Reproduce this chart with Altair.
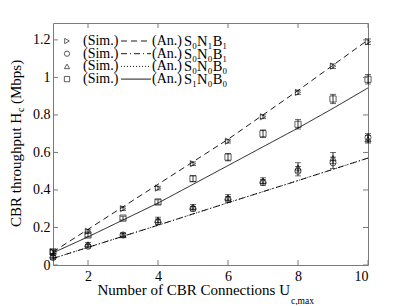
import altair as alt
import pandas as pd

# ---------------- data ----------------
x_vals = [1, 2, 3, 4, 5, 6, 7, 8, 9, 10]

series_names = ["S₀N₁B₁", "S₀N₀B₁", "S₀N₀B₀", "S₁N₀B₀"]
shapes = ["triangle-right", "circle", "triangle-up", "square"]
dashes = [[6, 4], [6, 3, 1, 3], [1, 2], [1, 0]]

# analytical curves
an_s0n1b1 = [0.07, 0.19, 0.31, 0.43, 0.55, 0.67, 0.80, 0.93, 1.065, 1.20]
an_s0n0b1 = [0.035, 0.094, 0.153, 0.212, 0.272, 0.332, 0.391, 0.45, 0.51, 0.57]
an_s0n0b0 = [0.035, 0.094, 0.153, 0.212, 0.272, 0.332, 0.391, 0.45, 0.51, 0.57]
an_s1n0b0 = [0.065, 0.15, 0.24, 0.33, 0.43, 0.53, 0.63, 0.73, 0.835, 0.944]

# simulations
sim_s0n1b1 = [0.07, 0.18, 0.30, 0.41, 0.54, 0.66, 0.79, 0.92, 1.06, 1.19]
sim_s0n0b1 = [0.04, 0.10, 0.16, 0.23, 0.30, 0.35, 0.44, 0.50, 0.545, 0.68]
sim_s0n0b0 = [0.05, 0.11, 0.16, 0.24, 0.31, 0.36, 0.45, 0.52, 0.57, 0.67]
sim_s1n0b0 = [0.07, 0.16, 0.25, 0.336, 0.46, 0.575, 0.70, 0.75, 0.885, 0.99]

# half-widths of confidence intervals
err_s0n1b1 = [0.01, 0.01, 0.01, 0.01, 0.01, 0.01, 0.01, 0.012, 0.012, 0.015]
err_s0n0b1 = [0.01, 0.01, 0.01, 0.015, 0.012, 0.015, 0.015, 0.025, 0.03, 0.02]
err_s0n0b0 = [0.01, 0.01, 0.01, 0.015, 0.012, 0.015, 0.015, 0.025, 0.03, 0.02]
err_s1n0b0 = [0.01, 0.01, 0.01, 0.012, 0.015, 0.02, 0.02, 0.025, 0.025, 0.025]

y_ticks = [0, 0.2, 0.4, 0.6, 0.8, 1, 1.2]
x_ticks = [2, 4, 6, 8, 10]

an_all = [an_s0n1b1, an_s0n0b1, an_s0n0b0, an_s1n0b0]
sim_all = [sim_s0n1b1, sim_s0n0b1, sim_s0n0b0, sim_s1n0b0]
err_all = [err_s0n1b1, err_s0n0b1, err_s0n0b0, err_s1n0b0]

# ---------------- tables ----------------
an_rows, sim_rows = [], []
for name, a, s, e in zip(series_names, an_all, sim_all, err_all):
    for xv, av, sv, ev in zip(x_vals, a, s, e):
        an_rows.append({"x": xv, "y": av, "series": name})
        sim_rows.append({"x": xv, "y": sv, "lo": sv - ev, "hi": sv + ev, "series": name})
an_df = pd.DataFrame(an_rows)
sim_df = pd.DataFrame(sim_rows)

W, H = 315, 242
FONT = "Liberation Serif"
FRAME = "#7a7a7a"

xs = alt.Scale(domain=[1, 10], nice=False, zero=False)
ys = alt.Scale(domain=[0, 1.29], nice=False)
xax = alt.Axis(values=x_ticks, ticks=False, domain=False, grid=False, title=None,
               labelPadding=4, labelFont=FONT, labelFontSize=14, labelColor="black")
yax = alt.Axis(values=y_ticks, format="~g", ticks=False, domain=False, grid=False,
               title=None, labelPadding=3, labelFont=FONT, labelFontSize=14, labelColor="black")

def X(f="x"):
    return alt.X(f + ":Q", scale=xs, axis=xax)

def Y(f="y"):
    return alt.Y(f + ":Q", scale=ys, axis=yax)

layers = []

# analytical lines
for name, dash in zip(series_names, dashes):
    layers.append(
        alt.Chart(an_df[an_df.series == name]).mark_line(
            color="black", strokeWidth=0.9, strokeDash=dash, clip=True
        ).encode(x=X(), y=Y())
    )

# error bars
layers.append(alt.Chart(sim_df).mark_rule(color="black", strokeWidth=0.8).encode(
    x=X(), y=Y("lo"), y2="hi:Q"))
for f in ["lo", "hi"]:
    layers.append(alt.Chart(sim_df).mark_tick(
        orient="horizontal", color="black", size=6, thickness=0.8).encode(x=X(), y=Y(f)))

# simulation markers
layers.append(alt.Chart(sim_df).mark_point(
    filled=False, color="black", size=38, strokeWidth=0.9).encode(
    x=X(), y=Y(),
    shape=alt.Shape("series:N", scale=alt.Scale(domain=series_names, range=shapes), legend=None)))

# inward ticks
ytk = pd.DataFrame({"v": y_ticks})
xtk = pd.DataFrame({"v": x_ticks})
tk = dict(color=FRAME, strokeWidth=1)
layers.append(alt.Chart(ytk).mark_rule(**tk).encode(y=Y("v"), x=alt.value(0), x2=alt.value(5)))
layers.append(alt.Chart(ytk).mark_rule(**tk).encode(y=Y("v"), x=alt.value(W - 5), x2=alt.value(W)))
layers.append(alt.Chart(xtk).mark_rule(**tk).encode(x=X("v"), y=alt.value(0), y2=alt.value(5)))
layers.append(alt.Chart(xtk).mark_rule(**tk).encode(x=X("v"), y=alt.value(H - 5), y2=alt.value(H)))

# legend
one = pd.DataFrame({"a": [0]})
for i, (name, shp, dash) in enumerate(zip(series_names, shapes, dashes)):
    ly = 18 + 12.7 * i
    layers.append(alt.Chart(one).mark_point(filled=False, color="black", size=28, strokeWidth=0.9).encode(
        x=alt.value(14), y=alt.value(ly), shape=alt.value(shp)))
    layers.append(alt.Chart(one).mark_text(text="(Sim.)", align="left", baseline="middle",
                                           font=FONT, fontSize=14, color="black").encode(
        x=alt.value(30), y=alt.value(ly)))
    layers.append(alt.Chart(one).mark_rule(color="black", strokeWidth=0.9, strokeDash=dash).encode(
        x=alt.value(68), x2=alt.value(98), y=alt.value(ly)))
    layers.append(alt.Chart(one).mark_text(text="(An.)", align="left", baseline="middle",
                                           font=FONT, fontSize=14, color="black").encode(
        x=alt.value(99), y=alt.value(ly)))
    layers.append(alt.Chart(one).mark_text(text=name, align="left", baseline="middle",
                                           font=FONT, fontSize=14.5, color="black").encode(
        x=alt.value(131), y=alt.value(ly + 1)))

# axis titles (with subscripts)
def txt(t, x, y, size=15, angle=0, align="left"):
    kw = dict(text=t, align=align, baseline="middle", font=FONT, fontSize=size, color="black")
    if angle:
        kw["angle"] = angle
    return alt.Chart(one).mark_text(**kw).encode(x=alt.value(x), y=alt.value(y))

layers.append(txt("Number of CBR Connections U", 237, 267, align="right"))
layers.append(txt("c,max", 238, 277.5, size=9.5))
layers.append(txt("CBR throughput H", -37, 204, angle=270))
layers.append(txt("c", -32.5, 89, size=10, angle=270))
layers.append(txt("(Mbps)", -37, 81, angle=270))

chart = alt.layer(*layers).properties(
    width=W, height=H,
    autosize=alt.AutoSizeParams(type="none"),
    padding={"left": 45, "top": 15, "right": 30, "bottom": 40},
).configure_view(
    stroke=FRAME, strokeWidth=1
)

chart.save("out.html", embed_options={"renderer": "svg", "actions": False})
